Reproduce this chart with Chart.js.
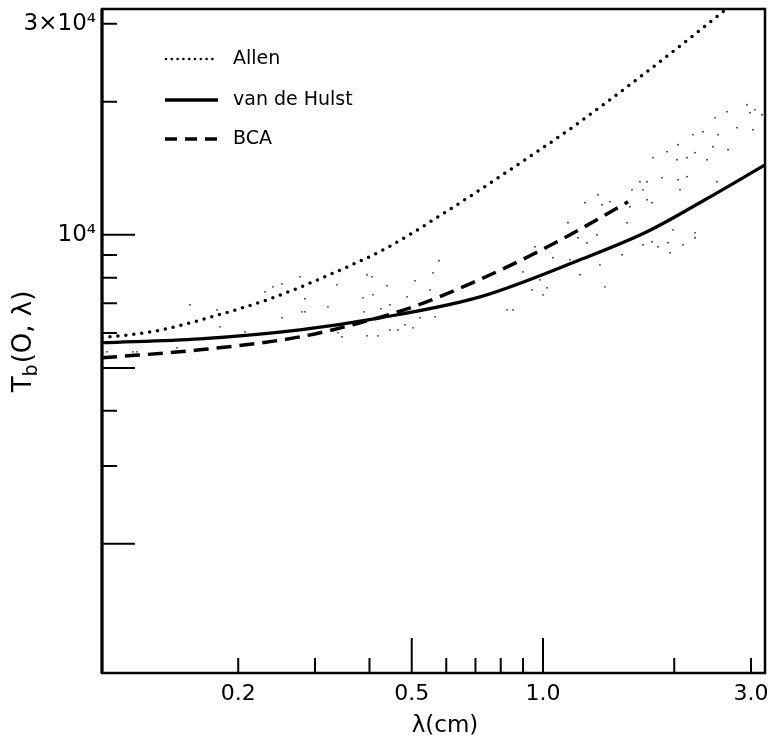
<!DOCTYPE html>
<html>
<head>
<meta charset="utf-8">
<script src="https://cdn.jsdelivr.net/npm/chart.js@4.4.0/dist/chart.umd.min.js"></script>
<style>
	html, body { margin: 0; padding: 0; background: #fff; }
	#wrap { width: 773px; height: 743px; position: relative; }
</style>
</head>
<body>
<div id="wrap"><canvas id="chart_tb"></canvas></div>
<script>
var FONT = '"DejaVu Sans", sans-serif';

// model curves: wavelength (cm) and brightness temperature (K)
var allenLambda = [0.0974, 0.1302, 0.1769, 0.2365, 0.3196, 0.4386, 0.58, 0.827, 1.172, 1.696, 2.254, 2.642];
var allenTemp = [5848, 6065, 6556, 7166, 8077, 9345, 11040, 13880, 17540, 23010, 28640, 32450];

var hulstLambda = [0.0974, 0.1634, 0.277, 0.423, 0.717, 1.216, 1.732, 2.353, 3.23];
var hulstTemp = [5700, 5818, 6097, 6489, 7238, 8780, 10160, 12000, 14390];

var bcaLambda = [0.0974, 0.1634, 0.277, 0.3804, 0.503, 0.6801, 0.9336, 1.216, 1.567];
var bcaTemp = [5268, 5493, 5877, 6323, 6871, 7745, 8965, 10291, 11877];

// observed points
var obsLambda = [0.100, 0.1016, 0.1147, 0.1172, 0.1447, 0.155, 0.1788, 0.1816, 0.2073, 0.2304,
	0.2402, 0.252, 0.2772, 0.252, 0.28, 0.2845, 0.2845, 0.3212, 0.3368, 0.3459,
	0.3387, 0.3948, 0.4054, 0.4386, 0.4076, 0.3865, 0.3885, 0.4249, 0.4457, 0.3948,
	0.4183, 0.4457, 0.4649, 0.4826, 0.5034, 0.5222, 0.5655, 0.4877, 0.5507, 0.5087,
	0.5595, 0.5775, 0.8269, 0.8536, 0.9436, 1.0, 1.021, 0.984, 0.8999, 0.9587,
	1.054, 1.153, 1.216, 1.387, 1.351, 1.141, 1.203, 1.261, 1.33, 1.248,
	1.366, 1.337, 1.424, 1.6, 1.696, 1.669, 1.732, 1.788, 1.925, 2.04,
	1.875, 2.04, 2.14, 2.062, 2.029, 2.14, 2.232, 2.377, 2.208, 2.328,
	2.481, 2.52, 2.454, 2.642, 2.657, 2.506, 2.786, 2.937, 2.984, 3.063,
	3.18, 3.031, 2.232, 2.232, 1.987, 2.095, 1.956, 1.836, 1.696, 1.778,
	1.518, 1.935, 1.583, 1.559, 1.732, 1.778];
var obsTemp = [5437, 5877, 5437, 5437, 5551, 6943, 6766, 6193, 6033, 7430,
	7627, 7745, 8035, 6490, 6696, 6696, 7166, 6873, 7706, 5877,
	6002, 8120, 8035, 7666, 7316, 7203, 6696, 6802, 6943, 5908,
	5908, 6097, 6097, 6257, 6160, 6490, 6524, 7239, 7508, 7867,
	8204, 8736, 6766, 6766, 7508, 7316, 7587, 7909, 8247, 9395,
	8872, 8779, 8120, 7627, 8553, 10645, 9845, 9592, 10000, 11815,
	11693, 12316, 11877, 12640, 12640, 13180, 13180, 14940, 15410, 15980,
	13460, 13320, 13530, 12640, 14780, 14940, 15330, 14780, 16840, 17100,
	18400, 16840, 15815, 18980, 15570, 13180, 17465, 19690, 18880, 19180,
	18680, 17280, 10100, 9845, 10260, 9493, 9105, 9395, 9493, 9643,
	9012, 9592, 11570, 10645, 12000, 11815];

// axes
var xMin = 0.0974, xMax = 3.23;
var yMin = 1021, yMax = 32400;
var xTickValues = [0.2, 0.5, 1.0, 3.0];
var xTickLabels = ['0.2', '0.5', '1.0', '3.0'];
var yTickValues = [10000, 30000];
var yTickLabels = ['10\u2074', '3\u00d710\u2074'];
var xMinorTicks = [0.2, 0.3, 0.4, 0.6, 0.7, 0.8, 0.9, 2, 3];
var xMajorTicks = [0.5, 1];
var yMinorTicks = [3000, 4000, 6000, 7000, 8000, 9000, 20000, 30000];
var yMajorTicks = [2000, 5000, 10000];

function pts(xs, ys) {
	return xs.map(function (x, i) { return { x: x, y: ys[i] }; });
}

var frame_plugin = {
	id: 'frame',
	afterDraw: function (chart) {
		var ctx = chart.ctx, a = chart.chartArea;
		var sx = chart.scales.x, sy = chart.scales.y;
		ctx.save();
		ctx.strokeStyle = '#000';
		ctx.lineCap = 'butt';

		// box
		ctx.lineWidth = 2.5;
		ctx.strokeRect(a.left, a.top, a.right - a.left, a.bottom - a.top);
		ctx.lineWidth = 3;
		ctx.beginPath();
		ctx.moveTo(a.left, a.top);
		ctx.lineTo(a.left, a.bottom);
		ctx.stroke();

		// inward ticks
		ctx.lineWidth = 2;
		ctx.beginPath();
		xMinorTicks.forEach(function (v) {
			var p = sx.getPixelForValue(v);
			ctx.moveTo(p, a.bottom); ctx.lineTo(p, a.bottom - 15);
		});
		xMajorTicks.forEach(function (v) {
			var p = sx.getPixelForValue(v);
			ctx.moveTo(p, a.bottom); ctx.lineTo(p, a.bottom - 35);
		});
		yMinorTicks.forEach(function (v) {
			var p = sy.getPixelForValue(v);
			ctx.moveTo(a.left, p); ctx.lineTo(a.left + 15, p);
		});
		yMajorTicks.forEach(function (v) {
			var p = sy.getPixelForValue(v);
			ctx.moveTo(a.left, p); ctx.lineTo(a.left + 33, p);
		});
		ctx.stroke();

		// axis titles
		ctx.fillStyle = '#000';
		ctx.textBaseline = 'middle';
		ctx.textAlign = 'center';
		ctx.font = '23px ' + FONT;
		ctx.fillText('\u03bb(cm)', 445, 726);

		ctx.save();
		ctx.translate(24, 342);
		ctx.rotate(-Math.PI / 2);
		ctx.textAlign = 'left';
		var big = '26px ' + FONT, small = '19px ' + FONT;
		ctx.font = big;
		var wT = ctx.measureText('T').width;
		var wRest = ctx.measureText('(O, \u03bb)').width;
		ctx.font = small;
		var wb = ctx.measureText('b').width;
		var x0 = -(wT + wb + wRest) / 2;
		ctx.font = big;
		ctx.fillText('T', x0, 0);
		ctx.font = small;
		ctx.fillText('b', x0 + wT, 8);
		ctx.font = big;
		ctx.fillText('(O, \u03bb)', x0 + wT + wb + 1, 0);
		ctx.restore();

		// legend
		var items = chart.data.datasets.slice(0, 3);
		var ly = [59, 100, 139];
		ctx.font = '19px ' + FONT;
		ctx.textAlign = 'left';
		items.forEach(function (ds, i) {
			var y = ly[i];
			ctx.beginPath();
			if (ds.label === 'Allen') {
				for (var x = 166; x <= 218; x += 5.8) {
					ctx.moveTo(x + 1.3, y);
					ctx.arc(x, y, 1.3, 0, Math.PI * 2);
				}
				ctx.fill();
			} else {
				ctx.lineWidth = 3.5;
				ctx.setLineDash(ds.label === 'BCA' ? [12, 8] : []);
				ctx.moveTo(165, y); ctx.lineTo(218, y);
				ctx.stroke();
				ctx.setLineDash([]);
			}
			ctx.fillText(ds.label, 233, y);
		});
		ctx.restore();
	}
};

var chart_tb = new Chart(
	document.getElementById('chart_tb'),
	{
		type: 'scatter',
		data: {
			datasets: [
				{
					label: 'Allen',
					data: pts(allenLambda, allenTemp),
					showLine: true,
					borderColor: '#000',
					borderWidth: 3.5,
					borderDash: [0, 8],
					borderCapStyle: 'round',
					cubicInterpolationMode: 'monotone',
					pointRadius: 0,
				},
				{
					label: 'van de Hulst',
					data: pts(hulstLambda, hulstTemp),
					showLine: true,
					borderColor: '#000',
					borderWidth: 3.2,
					cubicInterpolationMode: 'monotone',
					pointRadius: 0,
				},
				{
					label: 'BCA',
					data: pts(bcaLambda, bcaTemp),
					showLine: true,
					borderColor: '#000',
					borderWidth: 3.5,
					borderDash: [15, 8],
					cubicInterpolationMode: 'monotone',
					pointRadius: 0,
				},
				{
					label: 'observed',
					data: pts(obsLambda, obsTemp),
					showLine: false,
					pointRadius: 0.9,
					borderWidth: 0,
					backgroundColor: '#333',
				}
			]
		},
		options: {
			responsive: true,
			maintainAspectRatio: false,
			animation: false,
			layout: { padding: { top: 9, right: 8, left: 0, bottom: 0 } },
			plugins: {
				legend: { display: false },
				tooltip: { enabled: false },
			},
			scales: {
				x: {
					type: 'logarithmic',
					min: xMin,
					max: xMax,
					grid: { display: false, drawTicks: false },
					border: { display: false },
					afterBuildTicks: function (s) {
						s.ticks = xTickValues.map(function (v) { return { value: v }; });
					},
					afterFit: function (s) {
						s.height = 70;
						s.paddingLeft = 0;
						s.paddingRight = 0;
					},
					ticks: {
						autoSkip: false,
						maxRotation: 0,
						padding: 8,
						color: '#000',
						font: { family: FONT, size: 22 },
						callback: function (v) {
							return xTickLabels[xTickValues.indexOf(v)];
						}
					}
				},
				y: {
					type: 'logarithmic',
					min: yMin,
					max: yMax,
					grid: { display: false, drawTicks: false },
					border: { display: false },
					afterBuildTicks: function (s) {
						s.ticks = yTickValues.map(function (v) { return { value: v }; });
					},
					afterFit: function (s) {
						s.width = 102;
						s.paddingTop = 0;
						s.paddingBottom = 0;
					},
					ticks: {
						autoSkip: false,
						padding: 6,
						color: '#000',
						font: { family: FONT, size: 23 },
						callback: function (v) {
							return yTickLabels[yTickValues.indexOf(v)];
						}
					}
				}
			}
		},
		plugins: [frame_plugin]
	}
);
</script>
</body>
</html>
